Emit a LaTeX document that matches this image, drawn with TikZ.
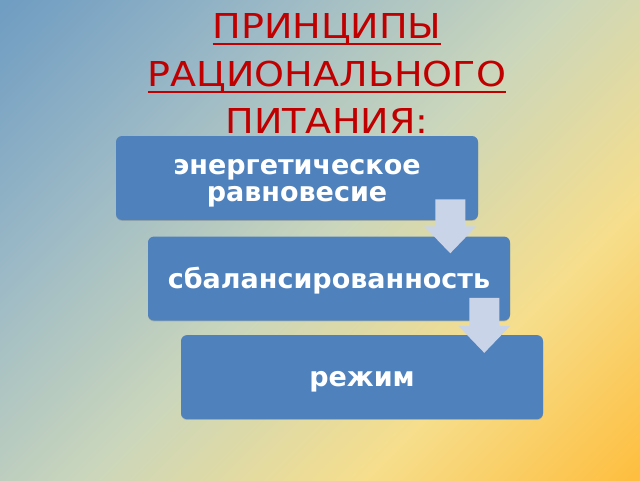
\documentclass[tikz,border=0pt]{standalone}
\usepackage{fontspec}
\setmainfont{DejaVu Sans}
\newfontfamily\titlefont[FakeStretch=1.11]{DejaVu Sans}
\usetikzlibrary{positioning,calc,shadows}

\definecolor{titlered}{RGB}{192,0,0}
\definecolor{boxblue}{RGB}{79,129,189}
\definecolor{flowblue}{RGB}{201,212,233}
\definecolor{bgblue}{RGB}{112,157,194}
\definecolor{bgsky}{RGB}{155,185,198}
\definecolor{bgpale}{RGB}{202,214,188}
\definecolor{bgyellow}{RGB}{246,222,140}
\definecolor{bgorange}{RGB}{255,185,50}
\pgfdeclarehorizontalshading{slidebg}{100bp}{color(0bp)=(bgblue); color(15bp)=(bgblue);
  color(32bp)=(bgsky); color(50bp)=(bgpale); color(68bp)=(bgyellow);
  color(88bp)=(bgorange); color(100bp)=(bgorange)}

% underlined heading line
\newcommand{\headline}[1]{\sbox0{#1}\rlap{\vrule height -3.5pt depth 5pt width \wd0}\usebox0}

\begin{document}
\begin{tikzpicture}[node distance=0.4cm,
    stage/.style={rectangle, rounded corners=0.15cm, fill=boxblue, text=white,
      minimum width=9.05cm, minimum height=2.1cm, inner sep=0pt, align=center,
      font=\bfseries\fontsize{19.2}{19}\selectfont, text height=17.9pt,
      drop shadow={shadow xshift=0pt, shadow yshift=-0.6pt, opacity=0.4, fill=black!50}},
    heading/.style={text=titlered, align=center, inner sep=0pt,
      font=\titlefont\fontsize{24.4}{34}\selectfont},
    flow/.style={fill=flowblue}]

\shade[shading=slidebg, shading angle=-45] (0,0) rectangle (16,12);
\useasboundingbox (0,0) rectangle (16,12);

\node [heading, anchor=north] (t) at (8.175,11.675)
  {\headline{ПРИНЦИПЫ}\\\headline{РАЦИОНАЛЬНОГО}\\\headline{ПИТАНИЯ:}};

\node [stage, text height=36.9pt] (a) at (7.425,7.55) {энергетическое\\равновесие};
\node [stage, below=of a, xshift=0.8cm] (b) {сбалансированность};
\node [stage, below=0.35cm of b, xshift=0.825cm] (c) {режим};

% block arrows between the steps
\fill[flow] ($(a.south east)+(-1.075,0.525)$) -- ++(0.75,0) -- ++(0,-0.675)
  -- ++(0.275,0) -- ++(-0.65,-0.675) -- ++(-0.65,0.675) -- ++(0.275,0) -- cycle;
\fill[flow] ($(b.south east)+(-1.025,0.575)$) -- ++(0.75,0) -- ++(0,-0.7)
  -- ++(0.275,0) -- ++(-0.65,-0.675) -- ++(-0.65,0.675) -- ++(0.275,0) -- cycle;
\end{tikzpicture}
\end{document}
